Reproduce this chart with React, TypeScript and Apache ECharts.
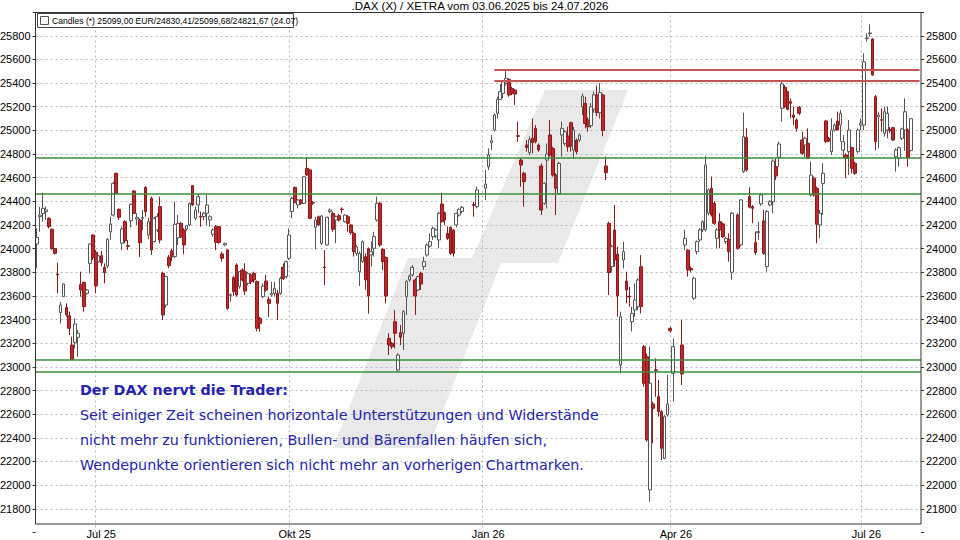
import React, { useEffect, useRef } from 'react';
import * as echarts from 'echarts';

const START_DATE = '2025-06-03';
const END_DATE = '2026-07-24';
const PAD_SLOTS = 3;
const MONTH_NAMES = ['Jan', 'Feb', 'Mär', 'Apr', 'Mai', 'Jun', 'Jul', 'Aug', 'Sep', 'Okt', 'Nov', 'Dez'];
const LABEL_MONTHS = [0, 3, 6, 9];
const Y_TICKS = [21800, 22000, 22200, 22400, 22600, 22800, 23000, 23200, 23400, 23600, 23800, 24000, 24200, 24400, 24600, 24800, 25000, 25200, 25400, 25600, 25800];
const SUPPORT_LEVELS = [24772, 24460, 23064, 22957];
const RESISTANCE_LEVELS = [25511, 25420];
const RESISTANCE_START = '2026-01-07';

const TITLE = '.DAX (X) / XETRA vom 03.06.2025 bis 24.07.2026';
const LEGEND_TEXT = 'Candles (*) 25099,00 EUR/24830,41/25099,68/24821,67 (24.07)';
const NOTE_HEAD = 'Der DAX nervt die Trader:';
const NOTE_LINES = [
  'Seit einiger Zeit scheinen horizontale Unterstützungen und Widerstände',
  'nicht mehr zu funktionieren, Bullen- und Bärenfallen häufen sich,',
  'Wendepunkte orientieren sich nicht mehr an vorherigen Chartmarken.',
];

// [open, close, low, high] per weekday, null = no trading
const DAX_OHLC: (number[] | null)[] = [
  [24039,24095,23833,24172],[24270,24284,24143,24355],[24298,24341,24228,24473],[24313,24327,24242,24355],[24256,24186,24170,24265],[24163,24000,23990,24170],[24000,23960,23950,24005],[23785,23777,23622,23881],[23458,23523,23368,23551],[23594,23701,23594,23706],
  [23503,23441,23424,23537],[23433,23326,23269,23467],[23185,23064,23058,23255],[23205,23363,23157,23410],[23250,23284,23086,23312],[23695,23650,23594,23805],[23715,23509,23467,23720],[23622,23650,23610,23660],[23875,24039,23791,24045],[24115,23926,23904,24121],
  [23969,23684,23622,23988],[23890,23938,23881,23945],[23940,23880,23850,23980],[23842,23797,23706,23875],[23853,24079,23833,24087],[24143,24208,24073,24270],[24284,24552,24270,24566],[24637,24468,24460,24642],[24332,24265,24242,24340],[24045,24166,23988,24186],
  [24228,24067,24045,24242],[24025,24020,23988,24073],[24236,24375,24180,24383],[24487,24298,24298,24496],[24250,24262,24200,24300],[24242,24050,23930,24256],[24256,24262,24157,24327],[24518,24313,24270,24530],[24115,24228,24080,24260],[24426,23989,23946,24440],
  [24059,24256,24053,24270],[24158,24270,24140,24300],[24355,24073,24045,24440],[23791,23439,23397,23805],[23523,23763,23500,23770],[23927,23856,23834,23946],[23980,23932,23896,23997],[23932,24206,23918,24397],[24093,24214,24031,24285],[24214,24101,24090,24225],
  [24158,24031,23952,24172],[24166,24194,24150,24200],[24200,24383,24190,24390],[24533,24369,24360,24538],[24256,24327,24242,24355],[24369,24440,24300,24460],[24272,24268,24186,24313],[24270,24299,24240,24310],[24299,24369,24200,24454],[24242,24270,24186,24285],
  [24121,24158,24100,24170],[24186,24053,23989,24200],[24186,24053,24040,24190],[23955,23918,23890,23974],[24031,24045,24020,24050],[23989,23495,23481,23997],[23605,23610,23552,23622],[23755,23636,23600,23770],[23862,23608,23594,23876],[23679,23805,23660,23810],
  [23819,23735,23721,23834],[23805,23642,23608,23876],[23707,23791,23690,23800],[23777,23721,23700,23790],[23791,23735,23710,23805],[23721,23326,23300,23730],[23410,23368,23298,23424],[23594,23684,23580,23706],[23726,23650,23636,23777],[23571,23537,23424,23594],
  [23608,23622,23594,23720],[23622,23664,23594,23720],[23622,23537,23396,23650],[23622,23749,23608,23763],[23842,23749,23735,23875],[23763,23890,23749,23900],[23918,24115,23904,24172],[24313,24425,24256,24439],[24518,24391,24383,24524],[24369,24411,24340,24420],
  [24411,24383,24370,24420],[24383,24608,24377,24614],[24679,24623,24614,24772],[24665,24256,24250,24671],[24392,24386,24370,24400],[24180,24242,23994,24270],[24270,24200,24190,24280],[24045,24276,24031,24284],[23845,23840,23692,23988],[24031,24265,24025,24270],
  [24313,24327,24298,24341],[24298,24163,24143,24313],[24242,24270,24045,24280],[24279,24242,24230,24290],[24334,24330,24298,24349],[24228,24284,24220,24290],[24270,24214,24143,24284],[24200,24135,24120,24210],[24129,23974,23932,24143],[23960,24015,23940,24030],
  [23805,23960,23684,23974],[23890,24059,23880,24070],[23932,23735,23650,23960],[24000,23600,23450,24010],[23946,23974,23848,24059],[24003,24101,23932,24143],[24242,24383,24228,24440],[24383,24031,24017,24397],[23994,23890,23819,24003],[23926,23599,23537,23932],
  [23241,23185,23100,23284],[23199,23171,23150,23210],[23382,23284,23157,23481],[22973,23100,22959,23115],[23289,23250,23185,23354],[23284,23467,23143,23481],[23594,23721,23439,23735],[23735,23769,23720,23780],[23777,23842,23763,23862],[23735,23599,23439,23749],
  [23650,23763,23640,23770],[23791,23701,23650,23805],[23848,23890,23819,23932],[23946,24031,23932,24045],[24022,24059,24011,24129],[24101,24172,24073,24186],[24107,24158,24090,24170],[24073,24299,24003,24313],[24377,24228,24220,24473],[24304,24242,24200,24313],
  [24129,24087,24073,24186],[24180,23960,23946,24186],[24158,23960,23932,24163],[24200,24299,24180,24304],[24284,24332,24270,24340],[24313,24349,24300,24361],null,null,null,[24372,24366,24270,24397],
  [24355,24496,24340,24524],null,null,[24510,24546,24410,24665],[24693,24792,24665,24848],[24896,24913,24834,24961],[25003,25130,24989,25144],[25144,25262,25100,25285],[25262,25327,25257,25392],[25313,25412,25271,25426],
  [25400,25440,25380,25510],[25431,25299,25285,25440],[25355,25313,25300,25370],[25341,25307,25214,25347],[24955,24950,24904,25074],[24749,24707,24524,24763],[24637,24566,24355,24651],[24876,24856,24820,24918],[24811,24924,24790,24950],[24933,24896,24806,25102],
  [25017,24904,24890,25045],[24876,24834,24820,24890],[24699,24326,24284,24721],[24383,24552,24370,24560],[24749,24800,24340,24890],[24961,24792,24778,25088],[24848,24622,24608,24862],[24622,24510,24284,24637],[24467,24721,24453,24735],[24961,25017,24778,25074],
  [24890,24989,24870,25000],[24952,24862,24820,25031],[25065,24868,24820,25074],[24834,25003,24763,25031],[24918,24820,24800,24930],[24918,24961,24900,24975],[25200,25290,25130,25313],[25228,25059,25017,25285],[25088,25031,24990,25110],[25040,25200,25020,25230],
  [25180,25300,25150,25330],[25300,25150,25120,25380],[25150,25320,25100,25400],[25300,25000,24950,25310],[24699,24642,24580,24778],[24214,23797,23608,24228],[23847,24016,23805,24031],[24157,23904,23847,24369],[23954,23599,23424,24016],[23016,23424,22945,23467],
  [23904,23974,23833,24059],[23726,23650,23537,23805],[23597,23591,23509,23678],[23382,23453,23300,23509],[23481,23566,23424,23706],[23509,23735,23481,23749],[23847,23509,23453,23946],[23171,22861,22833,23185],[23086,22382,22367,23114],[21959,22861,21860,23171],
  [22686,22649,22353,22706],[22975,22970,22748,23072],[22748,22621,22579,22889],[22621,22311,22212,22635],[22226,22579,22218,22593],[22593,22686,22579,22931],[23326,23306,23290,23340],[22945,23171,22706,23241],null,null,
  [23185,22940,22847,23396],[24031,24087,23988,24160],[23988,23819,23763,23994],[23833,23819,23800,23850],[23580,23749,23566,23763],[23974,24059,23950,24070],[24073,24158,24059,24172],[24158,24228,24140,24240],[24158,24708,24144,24784],[24299,24496,24280,24510],
  [24510,24285,24271,24609],[24383,24214,24200,24400],[24087,24158,24003,24172],[24228,24158,24003,24299],[24209,24101,24090,24220],[24059,24087,24040,24100],[24079,23975,23890,24130],[23800,24299,23735,24310],null,[24285,24003,23989,24299],
  [24031,24412,24020,24420],[24651,24947,24640,25150],[24939,24665,24651,25018],[24440,24350,24341,24519],[24355,24341,24214,24369],[24051,23966,23946,24144],[24135,24144,24073,24228],[24378,24454,24361,24468],[24234,23961,23946,24327],[23848,24313,23806,24327],
  [24369,24397,24361,24412],[24397,24741,24299,24756],[24694,24615,24581,24764],[24772,24885,24694,24905],[25187,25393,25074,25426],[25364,25201,25187,25384],[25328,25178,25170,25335],[25243,25229,25102,25271],[25130,25111,25046,25201],[25088,25018,24989,25102],
  [25195,25145,25130,25207],[24919,24806,24792,24989],[24877,24933,24772,24947],[24891,24764,24758,25017],[24454,24623,24440,24736],[24595,24454,24440,24610],[24510,24206,24045,24524],[24200,24300,24087,24327],[24552,24637,24285,24722],[25080,24905,24891,25088],
  [24933,24910,24900,24945],[24820,25003,24792,25102],[25003,25045,24990,25060],[25080,25003,25003,25158],[25045,25144,24905,25173],[24834,24905,24764,24961],[24792,24764,24595,24806],[24820,25003,24623,25088],[24854,24679,24637,24863],[24722,24637,24623,24736],
  [24820,25003,24806,25017],[25045,25060,25003,25102],[25045,25581,25003,25652],[25776,25782,25751,25821],[25818,25824,25793,25897],[25773,25469,25463,25779],[25285,24905,24834,25299],[25116,25130,24848,25158],[25090,25086,24989,25187],[24975,25158,24947,25201],
  [25003,25144,24933,25201],[25005,25000,24980,25030],[25023,24919,24910,25030],[24778,24834,24651,24848],[24764,24854,24693,24863],[24933,25012,24919,25023],[25003,25158,24827,25271],[25003,24769,24693,25017],[24830.41,25099,24821.67,25099.68],
];

function weekdayList(start: string, end: string): string[] {
  const out: string[] = [];
  const d = new Date(start + 'T00:00:00Z');
  const e = new Date(end + 'T00:00:00Z');
  while (d.getTime() <= e.getTime()) {
    const wd = d.getUTCDay();
    if (wd !== 0 && wd !== 6) out.push(d.toISOString().slice(0, 10));
    d.setUTCDate(d.getUTCDate() + 1);
  }
  return out;
}

const DATES = weekdayList(START_DATE, END_DATE);
const CATEGORIES = [...DATES, ...Array.from({ length: PAD_SLOTS }, (_, i) => 'pad' + i)];

function isQuarterStart(idx: number): boolean {
  if (idx <= 0 || idx >= DATES.length) return false;
  const m = Number(DATES[idx].slice(5, 7)) - 1;
  const pm = Number(DATES[idx - 1].slice(5, 7)) - 1;
  return m !== pm && LABEL_MONTHS.includes(m);
}

function labelFor(val: string): string {
  if (!/^\d{4}-/.test(val)) return '';
  const m = Number(val.slice(5, 7)) - 1;
  return MONTH_NAMES[m] + ' ' + val.slice(2, 4);
}

const FONT = 'Liberation Sans, Arial, sans-serif';

function buildOption(): any {
  const quarterIdx = DATES.map((_, i) => i).filter(isQuarterStart);
  const candleData = DAX_OHLC.map((d) => (d ? d : ['-', '-', '-', '-']));
  const gridLines = [
    ...Y_TICKS.map((v) => ({ yAxis: v })),
    ...quarterIdx.map((i) => ({ xAxis: DATES[i] })),
  ];
  const lastCat = CATEGORIES[CATEGORIES.length - 1];
  const levelLines: any[] = [
    ...SUPPORT_LEVELS.map((v) => ({ yAxis: v, lineStyle: { color: '#3a8d3a', width: 1.6, type: 'solid' } })),
    ...RESISTANCE_LEVELS.map((v) => [
      { coord: [RESISTANCE_START, v], lineStyle: { color: '#c45555', width: 2, type: 'solid' } },
      { coord: [lastCat, v] },
    ]),
  ];
  const yAxisBase = {
    type: 'value',
    min: 21600,
    max: 26000,
    interval: 200,
    splitLine: { show: false },
    axisLine: { show: false },
    axisTick: { show: true, length: 3, lineStyle: { color: '#333' } },
    axisLabel: {
      formatter: (v: number) => (v >= 21800 && v <= 25800 ? String(v) : ''),
      fontSize: 11,
      fontFamily: FONT,
      color: '#000',
      margin: 5,
    },
  };
  return {
    animation: false,
    backgroundColor: '#ffffff',
    title: {
      text: TITLE,
      left: 'center',
      top: 0,
      padding: 0,
      textStyle: { fontSize: 11.5, fontWeight: 'normal', fontFamily: FONT, color: '#000' },
    },
    grid: { left: 35.6, right: 39, top: 12.15, bottom: 7.6, containLabel: false, outerBoundsMode: 'none' },
    xAxis: {
      type: 'category',
      data: CATEGORIES,
      boundaryGap: true,
      offset: -8.4,
      axisLine: { show: false },
      axisTick: { show: false },
      splitLine: { show: false },
      axisLabel: {
        interval: (idx: number) => isQuarterStart(idx),
        formatter: (val: string) => labelFor(val),
        fontSize: 11,
        fontFamily: FONT,
        color: '#000',
        margin: 4,
        padding: [0, 0, 0, 11],
      },
    },
    yAxis: [
      { ...yAxisBase, position: 'left' },
      { ...yAxisBase, position: 'right' },
    ],
    series: [
      {
        type: 'line',
        data: [],
        silent: true,
        markLine: {
          silent: true,
          symbol: 'none',
          z: 1,
          animation: false,
          label: { show: false },
          lineStyle: { color: '#b8b8b8', width: 1, type: [2, 3] },
          emphasis: { disabled: true },
          data: gridLines,
        },
      },
      {
        type: 'candlestick',
        name: 'Candles',
        data: candleData,
        barWidth: 3.2,
        z: 2,
        itemStyle: {
          color: '#ffffff',
          color0: '#c0272d',
          borderColor: '#555555',
          borderColor0: '#8b1a1a',
          borderWidth: 1,
        },
      },
      {
        type: 'line',
        data: [],
        silent: true,
        markLine: {
          silent: true,
          symbol: 'none',
          z: 5,
          animation: false,
          label: { show: false },
          emphasis: { disabled: true },
          data: levelLines,
        },
      },
    ],
    graphic: [
      {
        type: 'polygon',
        z: 0,
        silent: true,
        shape: { points: [[545, 90], [628, 90], [558, 263], [470, 263]] },
        style: { fill: '#e9e9e9' },
      },
      {
        type: 'polygon',
        z: 0,
        silent: true,
        shape: { points: [[408, 258], [503, 258], [428, 448], [333, 448]] },
        style: { fill: '#e9e9e9' },
      },
      {
        type: 'rect',
        z: 10,
        silent: true,
        shape: { x: 35.5, y: 12.5, width: 885.5, height: 511.5 },
        style: { fill: 'none', stroke: '#333333', lineWidth: 1 },
      },
      {
        type: 'rect',
        z: 20,
        silent: true,
        shape: { x: 37.5, y: 13.5, width: 256, height: 14 },
        style: { fill: '#ffffff', stroke: '#444444', lineWidth: 1 },
      },
      {
        type: 'rect',
        z: 21,
        silent: true,
        shape: { x: 40.5, y: 16.5, width: 8, height: 8 },
        style: { fill: '#ffffff', stroke: '#555555', lineWidth: 1 },
      },
      {
        type: 'text',
        z: 21,
        silent: true,
        x: 52,
        y: 21,
        style: { text: LEGEND_TEXT, fill: '#000000', fontSize: 8.6, fontFamily: FONT, textVerticalAlign: 'middle', textAlign: 'left' },
      },
      {
        type: 'text',
        z: 20,
        silent: true,
        x: 80,
        y: 390,
        style: { text: NOTE_HEAD, fill: '#2424b0', fontSize: 14.3, fontWeight: 'bold', fontFamily: 'DejaVu Sans, sans-serif', textVerticalAlign: 'middle', textAlign: 'left' },
      },
      ...NOTE_LINES.map((t, i) => ({
        type: 'text',
        z: 20,
        silent: true,
        x: 80,
        y: 415 + i * 25,
        style: { text: t, fill: '#2424b0', fontSize: 14.3, fontFamily: 'DejaVu Sans, sans-serif', textVerticalAlign: 'middle', textAlign: 'left' },
      })),
    ],
  };
}

export default function App() {
  const ref = useRef<HTMLDivElement>(null);
  useEffect(() => {
    document.body.style.margin = '0';
    if (!ref.current) return;
    const chart = echarts.init(ref.current, null, { renderer: 'svg' });
    chart.setOption(buildOption());
    return () => chart.dispose();
  }, []);
  return <div ref={ref} style={{ width: 960, height: 540 }} />;
}
